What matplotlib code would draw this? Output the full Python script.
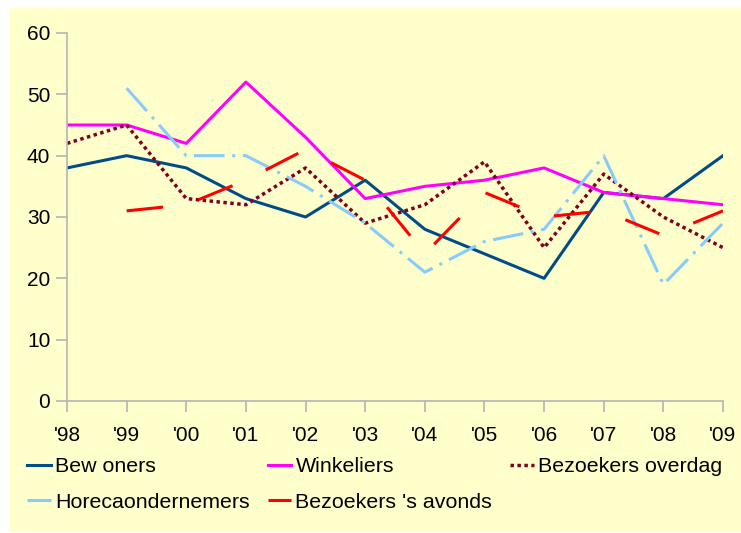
import matplotlib
matplotlib.use("Agg")
import matplotlib.pyplot as plt
from matplotlib.patches import Rectangle

plt.rcParams['font.family'] = ['Liberation Sans', 'DejaVu Sans']

years = ["'98", "'99", "'00", "'01", "'02", "'03", "'04", "'05", "'06", "'07", "'08", "'09"]
bewoners = [38, 40, 38, 33, 30, 36, 28, 24, 20, 34, 33, 40]
winkeliers = [45, 45, 42, 52, 43, 33, 35, 36, 38, 34, 33, 32]
overdag = [42, 45, 33, 32, 38, 29, 32, 39, 25, 37, 30, 25]
horeca = [None, 51, 40, 40, 35, 29, 21, 26, 28, 40, 19, 29]
avonds = [None, 31, 32, 36, 41, 36, 24, 34, 30, 31, 27, 31]

bg = '#FFFFCC'
axis_grey = '#B4B4B4'
fs = 15

fig = plt.figure(figsize=(7.41, 5.33), dpi=100)
fig.patches.append(Rectangle((10 / 741, 0.002), 1, 1 - 8 / 533 - 0.002,
                             transform=fig.transFigure, facecolor=bg,
                             edgecolor='none', zorder=-10))

ax = fig.add_axes([67 / 741, 132 / 533, 656 / 741, 368 / 533])
ax.set_facecolor('none')

x = list(range(len(years)))


def xs_ys(vals):
    pts = [(i, v) for i, v in zip(x, vals) if v is not None]
    return [p[0] for p in pts], [p[1] for p in pts]


lw = 2.2
l_bew, = ax.plot(*xs_ys(bewoners), color='#004C87', lw=lw, label='Bew oners')
l_win, = ax.plot(*xs_ys(winkeliers), color='#FF00FF', lw=lw, label='Winkeliers')
l_ovd, = ax.plot(*xs_ys(overdag), color='#800020', lw=lw + 0.3, label='Bezoekers overdag',
                 dashes=(1, 1))
l_hor, = ax.plot(*xs_ys(horeca), color='#87CBFA', lw=lw, label='Horecaondernemers',
                 dashes=(10, 2.5, 1, 2.5))
l_avo, = ax.plot(*xs_ys(avonds), color='#FF0000', lw=lw, label="Bezoekers 's avonds",
                 dashes=(12, 12))

ax.set_xlim(0, 11)
ax.set_ylim(0, 60)
ax.set_yticks(range(0, 61, 10))
ax.set_xticks(x)
ax.set_xticklabels(years)
for side in ['top', 'right']:
    ax.spines[side].set_visible(False)
for side in ['left', 'bottom']:
    ax.spines[side].set_color(axis_grey)
    ax.spines[side].set_linewidth(1.2)
ax.tick_params(axis='both', colors=axis_grey, labelcolor='black', labelsize=fs,
               length=8, width=1.2, direction='out')
ax.tick_params(axis='y', pad=4)
ax.tick_params(axis='x', pad=10)

handles = [l_bew, l_hor, l_win, l_avo, l_ovd]
fig.legend(handles=handles, labels=[h.get_label() for h in handles],
           loc='upper left', bbox_to_anchor=(27 / 741, 1 - 457 / 533),
           ncol=3, frameon=False, fontsize=15.4, handlelength=1.1,
           handletextpad=0.2, columnspacing=0.85, labelspacing=0.78,
           borderpad=0, borderaxespad=0)

fig.savefig('out.png', dpi=100, facecolor='white')
